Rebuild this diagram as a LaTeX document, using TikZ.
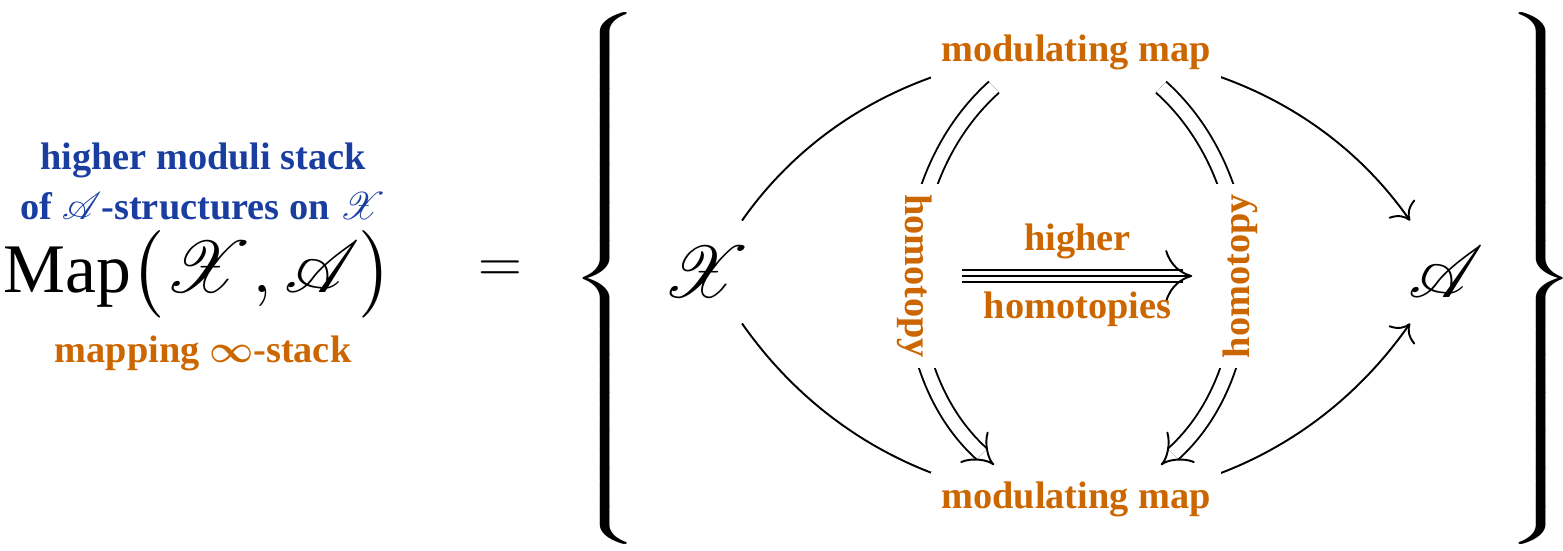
\documentclass[tikz,border=0pt]{standalone}
\usepackage{amsmath}
\usepackage{mathrsfs}
\usepackage{fontspec}
\setmainfont{Liberation Serif}
\usetikzlibrary{arrows.meta,positioning}
\definecolor{stackblu}{RGB}{25,62,160}
\definecolor{maparancio}{RGB}{204,102,0}
\newcommand\grande{\fontsize{19.8}{24}\selectfont}
\newcommand\etich{\fontsize{10.9}{13}\selectfont\bfseries}
\tikzset{
  lab/.style={font=\etich,text=maparancio,fill=white,inner sep=0.1cm},
  freccia/.style={line width=0.55pt,-{To[length=0.15cm,width=0.32cm]}},
  doppia/.style={double,double distance=0.13cm,line width=0.55pt,-{Implies[scale=1.4]}},
  ogg/.style={font=\fontsize{22}{26}\selectfont,circle,minimum size=1.24cm,inner sep=0pt},
  graffa/.style={inner sep=0pt,xscale=1.9,font=\fontsize{12}{14}\selectfont}
}
\begin{document}
\begin{tikzpicture}[x=0.01cm,y=-0.01cm]
        \useasboundingbox (0,0) rectangle (1563,550);
        %lato sinistro
        \node[font=\grande] (map) at (198,274) {Map$\bigl(\mathscr{X},\mathscr{A}\bigr)$};
        \node[font=\etich,text=stackblu] (hms) at (203,160) {higher moduli stack};
        \node[font=\etich,text=stackblu] (ofA) at (203,206) {of $\mathscr{A}$-structures on $\mathscr{X}$};
        \node[font=\etich,text=maparancio] (mst) at (203,353) {mapping $\boldsymbol{\infty}$-stack};
        \node[font=\fontsize{16}{19}\selectfont] (eq) at (500,272) {$=$};
        %parentesi
        \node[graffa] (lbr) at (609,283) {$\left\{\rule[-75pt]{0pt}{150pt}\right.$};
        \node[graffa] (rbr) at (1537,283) {$\left.\rule[-75pt]{0pt}{150pt}\right\}$};
        %oggetti
        \node[ogg] (X) at (706,272) {$\mathscr{X}$};
        \node[ogg] (A) at (1446,272) {$\mathscr{A}$};
        %mappe
        \draw[freccia] (X) to[bend left=55,looseness=1.05] node[lab] (mtop) {modulating map} (A);
        \draw[freccia] (X) to[bend right=55,looseness=1.10] node[lab] (mbot) {modulating map} (A);
        %omotopie
        \draw[doppia] ([shift={(-82,6)}]mtop.south) to[bend right=48,looseness=0.97]
                      node[lab,rotate=-90] (hl) {homotopy} ([shift={(-82,-6)}]mbot.north);
        \draw[doppia] ([shift={(85,6)}]mtop.south) to[bend left=48,looseness=0.97]
                      node[lab,rotate=90] (hr) {homotopy} ([shift={(85,-6)}]mbot.north);
        %omotopie superiori
        \draw[double,double distance=0.1cm,line width=0.55pt,shorten <=0.19cm,shorten >=0.29cm] (hl) -- (hr);
        \draw[line width=0.55pt,shorten <=0.19cm,shorten >=0.2cm,-{To[length=0.27cm,width=0.52cm]}] (hl) -- (hr)
              node[midway,above=0.16cm,inner sep=0pt,font=\etich,text=maparancio] (hig) {higher}
              node[midway,below=0.15cm,inner sep=0pt,font=\etich,text=maparancio] (hom) {homotopies};
\end{tikzpicture}
\end{document}
